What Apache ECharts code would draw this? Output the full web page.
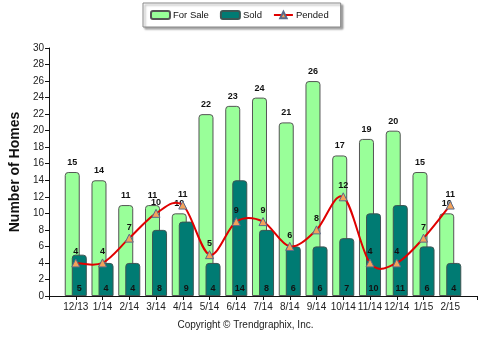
<!DOCTYPE html>
<html>
<head>
<meta charset="utf-8">
<script src="https://cdn.jsdelivr.net/npm/echarts@6/dist/echarts.min.js"></script>
<style>
  html, body { margin: 0; padding: 0; background: #fff; }
  #chart { width: 491px; height: 345px; }
</style>
</head>
<body>
<div id="chart"></div>
<script>
// Monthly housing activity
const months = ['12/13','1/14','2/14','3/14','4/14','5/14','6/14','7/14','8/14','9/14','10/14','11/14','12/14','1/15','2/15'];
const forSale = [15, 14, 11, 11, 10, 22, 23, 24, 21, 26, 17, 19, 20, 15, 10];
const sold    = [5, 4, 4, 8, 9, 4, 14, 8, 6, 6, 7, 10, 11, 6, 4];
const pended  = [4, 4, 7, 10, 11, 5, 9, 9, 6, 8, 12, 4, 4, 7, 11];
const yTicks  = [0, 2, 4, 6, 8, 10, 12, 14, 16, 18, 20, 22, 24, 26, 28, 30];

// empty slots at both ends give the axis its side padding
const pad = a => [null].concat(a, [null]);
const cats = [''].concat(months, ['']);

const chart = echarts.init(document.getElementById('chart'));
const FONT = 'Liberation Sans, Arial, sans-serif';
const RED = '#E00000';

// Cardinal (Catmull-Rom) spline: each pended point draws the segment to the next one
function renderPendedSegment(params, api) {
  const i = params.dataIndex;
  const n = pended.length;
  if (i >= n - 1) return null;
  const pt = k => api.coord([Math.max(0, Math.min(n - 1, k)) + 1, pended[Math.max(0, Math.min(n - 1, k))]]);
  const p0 = pt(i - 1), p1 = pt(i), p2 = pt(i + 1), p3 = pt(i + 2);
  const c1 = [p1[0] + (p2[0] - p0[0]) / 6, p1[1] + (p2[1] - p0[1]) / 6];
  const c2 = [p2[0] - (p3[0] - p1[0]) / 6, p2[1] - (p3[1] - p1[1]) / 6];
  return {
    type: 'bezierCurve',
    shape: { x1: p1[0], y1: p1[1], x2: p2[0], y2: p2[1], cpx1: c1[0], cpy1: c1[1], cpx2: c2[0], cpy2: c2[1] },
    style: { stroke: RED, lineWidth: 2, fill: null }
  };
}

chart.setOption({
  animation: false,
  textStyle: { fontFamily: FONT },
  legend: {
    left: 143, top: 3,
    padding: [7, 12, 7, 7],
    itemGap: 11,
    itemWidth: 19, itemHeight: 8,
    backgroundColor: '#fff',
    borderColor: '#888', borderWidth: 1,
    shadowColor: 'rgba(0,0,0,0.35)', shadowOffsetX: 2, shadowOffsetY: 2, shadowBlur: 2,
    textStyle: { fontSize: 9.5, color: '#111', fontFamily: FONT, padding: [0, 0, 0, -2] },
    data: [
      'For Sale',
      'Sold',
      { name: 'Pended', lineStyle: { color: RED, width: 2, opacity: 1 } }
    ]
  },
  grid: { left: 43, right: 14, top: 48, bottom: 49 },
  xAxis: {
    type: 'category',
    data: cats,
    boundaryGap: false,
    axisLine: { lineStyle: { color: '#111', width: 1 } },
    axisTick: { length: 4, lineStyle: { color: '#111' } },
    axisLabel: { fontSize: 10, color: '#222', margin: 6, interval: 0 },
    splitLine: { show: false }
  },
  yAxis: {
    type: 'value',
    min: yTicks[0], max: yTicks[yTicks.length - 1], interval: yTicks[1] - yTicks[0],
    name: 'Number of Homes',
    nameLocation: 'middle',
    nameGap: 26,
    nameTextStyle: { fontSize: 14, fontWeight: 'bold', color: '#111' },
    axisLine: { show: true, lineStyle: { color: '#111' } },
    axisTick: { show: true, length: 4, lineStyle: { color: '#111' } },
    axisLabel: { fontSize: 10, color: '#222', margin: 5 },
    splitLine: { show: false }
  },
  series: [
    {
      name: 'For Sale', type: 'bar',
      data: pad(forSale),
      barWidth: 15, barGap: '-53%',
      itemStyle: { color: '#99FF99', borderColor: '#555', borderWidth: 1, borderRadius: [3, 3, 0, 0] },
      label: { show: true, position: 'top', distance: 5, fontSize: 9, fontWeight: 'bold', color: '#111' }
    },
    {
      name: 'Sold', type: 'bar',
      data: pad(sold),
      barWidth: 15,
      itemStyle: { color: '#007B73', borderColor: '#3d5553', borderWidth: 1, borderRadius: [3, 3, 0, 0] },
      label: { show: true, position: 'insideBottom', distance: 3, fontSize: 9, fontWeight: 'bold', color: '#111' }
    },
    {
      name: 'PendedCurve', type: 'custom',
      data: pended.map((v, i) => [i + 1, v]),
      renderItem: renderPendedSegment,
      silent: true,
      z: 4
    },
    {
      name: 'Pended', type: 'line',
      data: pad(pended),
      symbol: 'triangle', symbolSize: 8,
      lineStyle: { color: RED, width: 2, opacity: 0 },
      itemStyle: { color: '#F4A25A', borderColor: '#5a6a8a', borderWidth: 1 },
      label: { show: true, position: 'top', distance: 2, fontSize: 9, fontWeight: 'bold', color: '#111' },
      z: 5
    }
  ],
  graphic: [{
    type: 'text', left: 'center', top: 320,
    style: { text: 'Copyright \u00A9 Trendgraphix, Inc.', fontSize: 10, fill: '#222', fontFamily: FONT }
  }]
});
</script>
</body>
</html>
